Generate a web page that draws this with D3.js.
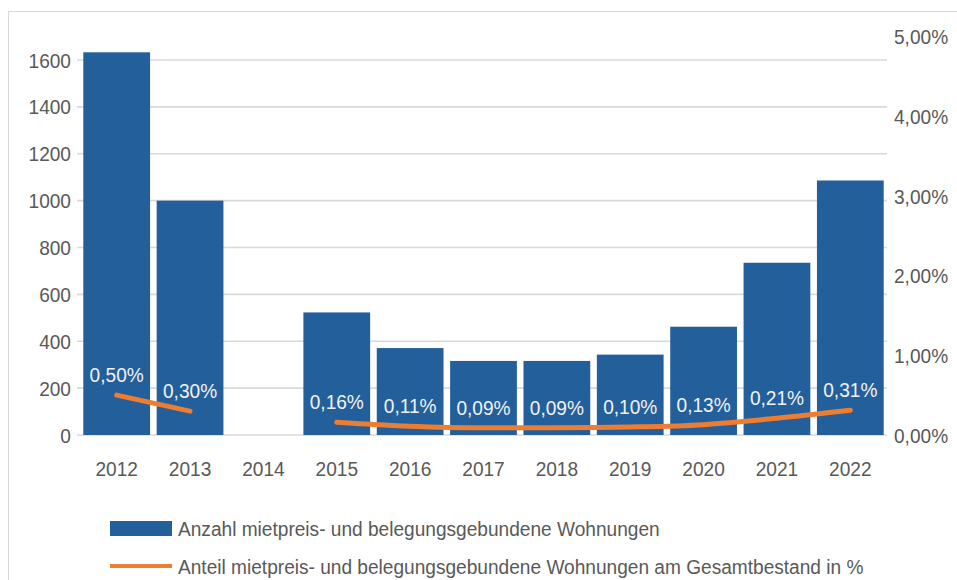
<!DOCTYPE html>
<html><head><meta charset="utf-8">
<script src="https://cdn.jsdelivr.net/npm/d3@7"></script>
<style>body{margin:0;background:#fff}svg{display:block}text{font-family:"Liberation Sans",Arial,sans-serif}</style>
</head><body><svg id="c" width="957" height="580"></svg>
<script>
const years = ["2012","2013","2014","2015","2016","2017","2018","2019","2020","2021","2022"];
const counts = [1633,1000,null,523,371,316,316,343,462,735,1086];
const shares = [0.50,0.30,null,0.16,0.11,0.09,0.09,0.10,0.13,0.21,0.31];
const leftTicks = [0,200,400,600,800,1000,1200,1400,1600];
const rightTicks = [0,1,2,3,4,5];
const legendLabels = ["Anzahl mietpreis- und belegungsgebundene Wohnungen","Anteil mietpreis- und belegungsgebundene Wohnungen am Gesamtbestand in %"];

const svg = d3.select("#c");
const m = {l:80, r:887, t:36.6, b:435};
const x = d3.scaleBand().domain(years).range([m.l, m.r]).paddingInner(0.09).paddingOuter(0.045);
const yL = d3.scaleLinear().domain([0,1700]).range([m.b, m.t]);
const yR = d3.scaleLinear().domain([0,5]).range([m.b, m.t]);
const fmt = v => v.toFixed(2).replace(".", ",") + "%";
const txt = "#595959";
const SX = 0.91;
const place = (sel, fx, fy) => sel.attr("transform", (d,i) => `translate(${fx(d,i)},${fy(d,i)}) scale(${SX},1)`);

svg.append("rect").attr("x",8.5).attr("y",11.5).attr("width",1000).attr("height",1000)
  .attr("fill","none").attr("stroke","#d9d9d9");

// grid
svg.append("g").selectAll("line").data(leftTicks).join("line")
  .attr("x1",m.l-3).attr("x2",m.r).attr("y1",d=>yL(d)).attr("y2",d=>yL(d))
  .attr("stroke","#d9d9d9").attr("stroke-width",1.6);

// left labels
place(svg.append("g").selectAll("text").data(leftTicks).join("text")
  .attr("dy","0.36em").attr("text-anchor","end")
  .attr("font-size",21).attr("fill",txt).text(d=>d), ()=>71, d=>yL(d));

// right labels
place(svg.append("g").selectAll("text").data(rightTicks).join("text")
  .attr("dy","0.36em").attr("text-anchor","start")
  .attr("font-size",21).attr("fill",txt).text(d=>fmt(d)), ()=>894, d=>yR(d));

// bars
svg.append("g").selectAll("rect").data(years.map((y,i)=>({y,v:counts[i]})).filter(d=>d.v!=null)).join("rect")
  .attr("x",d=>x(d.y)).attr("width",x.bandwidth()).attr("y",d=>yL(d.v)).attr("height",d=>yL(0)-yL(d.v))
  .attr("fill","#235f9b");

// x labels
place(svg.append("g").selectAll("text").data(years).join("text")
  .attr("text-anchor","middle")
  .attr("font-size",21).attr("fill",txt).text(d=>d), d=>x(d)+x.bandwidth()/2, ()=>476);

// line
const pts = years.map((y,i)=>({y,v:shares[i]}));
const line = d3.line().defined(d=>d.v!=null).x(d=>x(d.y)+x.bandwidth()/2).y(d=>yR(d.v)).curve(d3.curveMonotoneX);
svg.append("path").datum(pts).attr("d",line).attr("fill","none").attr("stroke","#ed7d31")
  .attr("stroke-width",5).attr("stroke-linecap","round");

// value labels
place(svg.append("g").selectAll("text").data(pts.filter(d=>d.v!=null)).join("text")
  .attr("text-anchor","middle")
  .attr("font-size",21).attr("fill","#f2f2f2").text(d=>fmt(d.v)),
  d=>x(d.y)+x.bandwidth()/2, d=>yR(d.v)-13);

// legend
const lg = svg.append("g");
lg.append("rect").attr("x",110).attr("y",521).attr("width",62).attr("height",15).attr("fill","#235f9b");
lg.append("line").attr("x1",110).attr("x2",172).attr("y1",566).attr("y2",566).attr("stroke","#ed7d31").attr("stroke-width",4);
place(lg.selectAll("text").data(legendLabels).join("text")
  .attr("font-size",21).attr("fill",txt).text(d=>d), ()=>178, (d,i)=>[536,574][i]);
</script></body></html>
